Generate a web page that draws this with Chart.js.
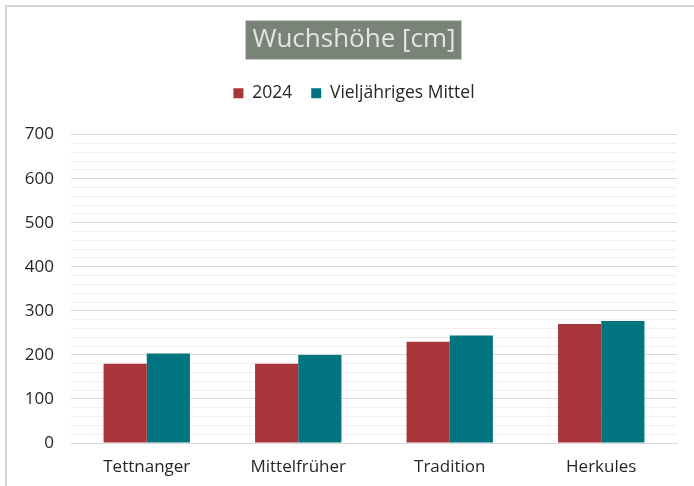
<!DOCTYPE html>
<html>
<head>
<meta charset="utf-8">
<script src="https://cdn.jsdelivr.net/npm/chart.js@4/dist/chart.umd.min.js"></script>
<style>
html,body{margin:0;padding:0;background:#fff;overflow:hidden;}
#wrap{position:relative;width:694px;height:486px;}
#frame{position:absolute;left:5px;top:5px;width:720px;height:520px;border-left:2px solid #d6d6d6;border-top:2px solid #d6d6d6;}
#c{position:absolute;left:0;top:0;}
</style>
</head>
<body>
<div id="wrap"><div id="frame"></div><canvas id="c" width="694" height="486"></canvas></div>
<script>
const categories = ["Tettnanger", "Mittelfrüher", "Tradition", "Herkules"];
const seriesNames = ["2024", "Vieljähriges Mittel"];
const values2024 = [180, 180, 230, 270];
const valuesMittel = [203, 200, 244, 277];
const titleText = "Wuchshöhe [cm]";
const yMax = 700;

const FONT = "'Open Sans', 'DejaVu Sans', sans-serif";
const TITLE_SIZE = 26;
const HEADER_SHIFT = 31;

const titleBox = {
  id: 'titleBox',
  afterLayout(chart) {
    if (chart.titleBlock) chart.titleBlock.left += HEADER_SHIFT;
    if (chart.legend) chart.legend.left += HEADER_SHIFT;
  },
  beforeDraw(chart) {
    const t = chart.titleBlock;
    if (!t) return;
    const ctx = chart.ctx;
    ctx.save();
    ctx.font = TITLE_SIZE + "px " + FONT;
    const w = ctx.measureText(titleText).width;
    const cx = (t.left + t.right) / 2;
    const cy = t.top + t.options.padding.top + TITLE_SIZE * 0.6;
    const bw = w + 14, bh = 40;
    const x0 = Math.round(cx - bw / 2), y0 = Math.round(cy - bh / 2);
    ctx.fillStyle = '#7a8377';
    ctx.fillRect(x0, y0, Math.round(bw), bh);
    ctx.strokeStyle = '#c9cdc7';
    ctx.lineWidth = 1;
    ctx.strokeRect(x0 + 0.5, y0 + 0.5, Math.round(bw) - 1, bh - 1);
    ctx.restore();
  }
};

new Chart(document.getElementById('c'), {
  type: 'bar',
  data: {
    labels: categories,
    datasets: [
      { label: seriesNames[0], data: values2024, backgroundColor: '#a8353a', borderWidth: 0 },
      { label: seriesNames[1], data: valuesMittel, backgroundColor: '#00757f', borderWidth: 0 }
    ]
  },
  options: {
    responsive: false,
    animation: false,
    layout: { padding: { left: 0, right: 17, top: 0, bottom: 0 } },
    datasets: { bar: { categoryPercentage: 0.57, barPercentage: 1.0 } },
    plugins: {
      title: {
        display: true,
        text: titleText,
        color: '#e4e4e4',
        font: { family: FONT, size: TITLE_SIZE, weight: 'normal' },
        padding: { top: 24.4, bottom: 10 }
      },
      legend: {
        display: true,
        position: 'top',
        labels: {
          boxWidth: 10, boxHeight: 10, padding: 19,
          color: '#262626',
          font: { family: FONT, size: 17.5 }
        }
      },
      tooltip: { enabled: false }
    },
    scales: {
      spacer: {
        type: 'category',
        position: 'top',
        display: true,
        grid: { display: false, drawTicks: false },
        border: { display: false },
        ticks: { display: false },
        afterFit(s) { s.height = 22.5; }
      },
      x: {
        offset: true,
        grid: { display: false, drawTicks: false },
        border: { display: true, color: '#d9d9d9', width: 1 },
        ticks: { color: '#262626', font: { family: FONT, size: 17 }, padding: 14 },
        afterFit(s) { s.height = 43; }
      },
      y: {
        min: 0, max: yMax,
        grid: {
          drawTicks: false,
          color: (c) => (c.tick && c.tick.value % 100 === 0) ? '#d9d9d9' : '#efefef',
          lineWidth: 1
        },
        border: { display: false },
        ticks: {
          stepSize: 20, autoSkip: false,
          color: '#262626', font: { family: FONT, size: 17 }, padding: 17,
          callback: (v) => (v % 100 === 0 ? String(v) : '')
        },
        afterFit(s) { s.width = 71; }
      }
    }
  },
  plugins: [titleBox]
});
</script>
</body>
</html>
